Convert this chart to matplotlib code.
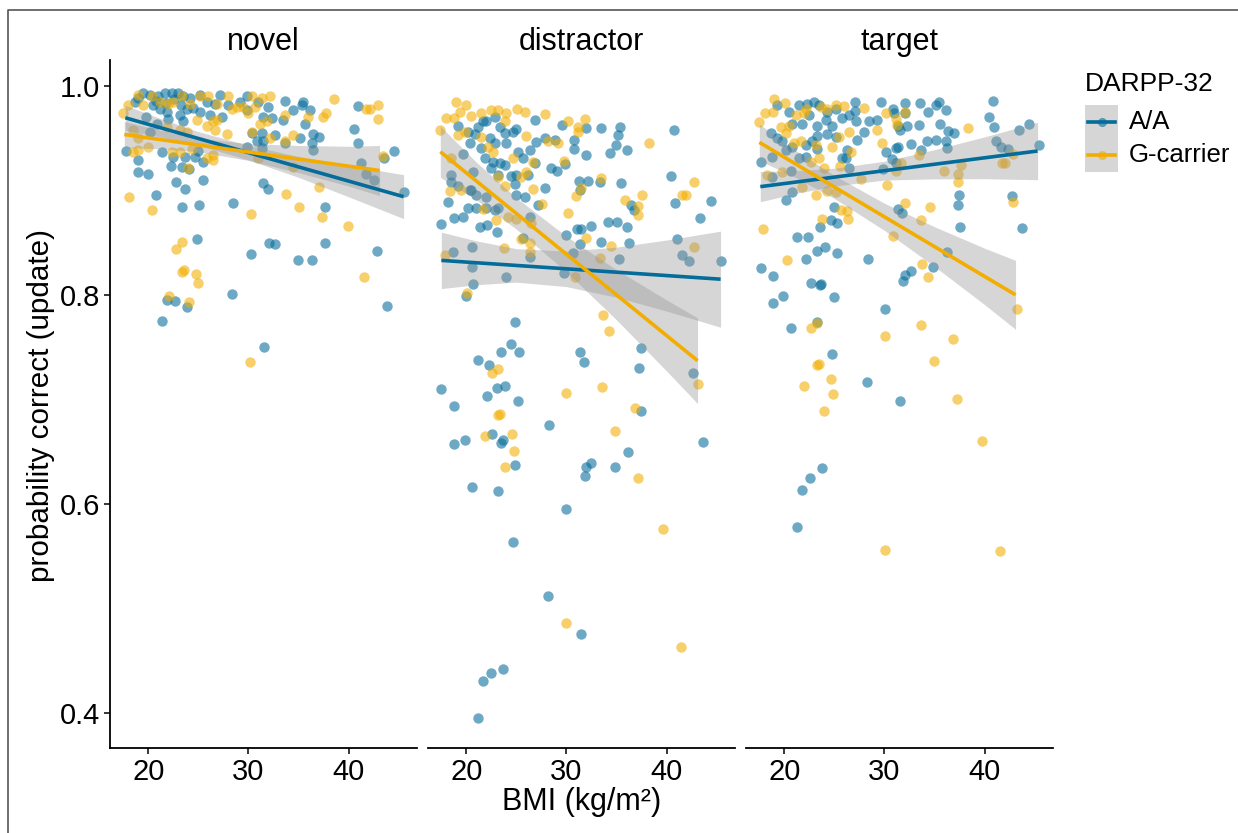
import matplotlib.pyplot as plt
from matplotlib.lines import Line2D
from matplotlib.patches import Rectangle

plt.rcParams['font.family'] = ['Liberation Sans', 'DejaVu Sans']

panels = ['novel', 'distractor', 'target']
groups = ['A/A', 'G-carrier']
colors = {'A/A': '#046C9A', 'G-carrier': '#F2AD00'}

# (BMI, probability correct)
novel_aa = [
    (19.5, 0.993), (18.7, 0.985), (20.2, 0.991), (21.0, 0.990), (21.7, 0.993), (22.4, 0.993),
    (23.0, 0.993), (23.5, 0.990), (24.2, 0.988), (25.2, 0.991), (25.9, 0.985), (26.7, 0.983),
    (27.2, 0.991), (28.0, 0.982), (29.2, 0.985), (29.9, 0.990), (31.0, 0.985), (32.0, 0.980),
    (33.7, 0.986), (34.5, 0.977), (35.4, 0.982), (35.5, 0.985), (36.2, 0.977), (40.9, 0.981),
    (20.5, 0.982), (21.9, 0.975), (23.2, 0.972), (23.9, 0.978), (25.2, 0.975), (26.2, 0.972),
    (27.4, 0.970), (29.9, 0.977), (31.5, 0.970), (32.4, 0.969), (33.5, 0.967), (35.7, 0.964),
    (40.5, 0.959), (20.2, 0.956), (20.9, 0.964), (31.4, 0.955), (30.4, 0.955), (32.7, 0.953),
    (30.9, 0.947), (31.5, 0.947), (33.7, 0.945), (35.2, 0.950), (36.5, 0.954), (37.0, 0.951),
    (36.4, 0.945), (29.9, 0.942), (31.4, 0.941), (36.5, 0.939), (40.9, 0.945), (41.2, 0.926),
    (41.7, 0.916), (42.5, 0.910), (43.5, 0.931), (44.5, 0.938), (45.5, 0.898), (17.8, 0.938),
    (19.0, 0.929), (19.0, 0.918), (20.0, 0.916), (21.4, 0.937), (22.5, 0.932), (23.7, 0.932),
    (24.7, 0.932), (25.0, 0.938), (25.5, 0.927), (22.3, 0.923), (23.4, 0.922), (24.1, 0.920),
    (22.8, 0.908), (23.7, 0.901), (25.5, 0.910), (31.5, 0.907), (32.0, 0.901), (20.8, 0.896),
    (23.4, 0.884), (25.1, 0.886), (28.5, 0.888), (37.6, 0.884), (24.9, 0.853), (30.3, 0.839),
    (32.1, 0.850), (32.7, 0.849), (35.0, 0.833), (36.4, 0.833), (37.6, 0.850), (42.8, 0.842),
    (28.4, 0.801), (21.9, 0.795), (22.7, 0.794), (23.9, 0.788), (43.8, 0.789), (21.4, 0.775),
    (31.6, 0.750), (19.0, 0.988), (20.8, 0.986), (21.8, 0.984), (22.6, 0.987), (23.3, 0.982),
    (24.5, 0.979), (22.0, 0.968), (23.5, 0.966), (19.8, 0.970), (21.2, 0.978),
]
novel_g = [
    (17.5, 0.974), (18.0, 0.982), (19.0, 0.991), (19.5, 0.982), (20.4, 0.990), (21.2, 0.985),
    (22.0, 0.983), (22.5, 0.985), (23.4, 0.990), (24.2, 0.983), (25.2, 0.990), (26.0, 0.990),
    (26.9, 0.983), (28.0, 0.990), (28.4, 0.978), (28.9, 0.980), (29.5, 0.980), (30.4, 0.990),
    (31.4, 0.988), (32.2, 0.990), (30.0, 0.974), (30.7, 0.980), (31.2, 0.964), (31.9, 0.966),
    (33.7, 0.972), (36.0, 0.970), (37.4, 0.970), (37.7, 0.974), (38.5, 0.987), (41.7, 0.978),
    (42.1, 0.978), (42.9, 0.982), (42.9, 0.968), (24.9, 0.967), (25.9, 0.962), (26.5, 0.966),
    (26.7, 0.958), (27.9, 0.954), (26.9, 0.967), (23.9, 0.956), (23.2, 0.958), (21.9, 0.961),
    (18.5, 0.958), (19.0, 0.950), (20.0, 0.942), (18.5, 0.937), (19.0, 0.939), (22.4, 0.937),
    (23.2, 0.937), (24.4, 0.940), (25.9, 0.931), (26.5, 0.929), (26.5, 0.934), (24.0, 0.921),
    (30.4, 0.956), (32.2, 0.950), (34.5, 0.953), (33.7, 0.947), (31.0, 0.931), (34.5, 0.922),
    (43.4, 0.933), (33.8, 0.897), (37.0, 0.903), (18.1, 0.894), (20.4, 0.881), (30.3, 0.877),
    (35.1, 0.884), (37.3, 0.875), (39.9, 0.866), (23.4, 0.851), (22.8, 0.844), (23.4, 0.822),
    (23.6, 0.824), (24.8, 0.820), (25.0, 0.811), (22.1, 0.799), (24.1, 0.793), (41.5, 0.817),
    (30.2, 0.736),
]
distractor_aa = [
    (19.2, 0.962), (20.2, 0.956), (21.7, 0.966), (22.0, 0.966), (22.9, 0.970), (21.2, 0.961),
    (23.4, 0.961), (23.9, 0.955), (24.7, 0.956), (25.0, 0.959), (24.0, 0.945), (22.4, 0.950),
    (22.9, 0.945), (19.7, 0.935), (20.4, 0.945), (20.9, 0.954), (21.5, 0.941), (21.9, 0.931),
    (22.7, 0.927), (23.4, 0.926), (22.5, 0.921), (23.9, 0.924), (25.2, 0.937), (25.7, 0.931),
    (26.4, 0.939), (26.9, 0.926), (27.0, 0.946), (26.9, 0.967), (27.9, 0.950), (28.9, 0.948),
    (28.5, 0.921), (29.1, 0.919), (29.9, 0.925), (29.6, 0.963), (30.8, 0.948), (30.8, 0.940),
    (32.0, 0.960), (32.0, 0.934), (33.5, 0.960), (35.4, 0.961), (35.2, 0.953), (35.0, 0.943),
    (34.4, 0.936), (36.1, 0.939), (40.7, 0.958), (40.4, 0.914), (35.5, 0.907), (33.4, 0.908),
    (32.2, 0.909), (31.3, 0.909), (31.4, 0.900), (27.9, 0.902), (26.2, 0.915), (25.0, 0.915),
    (24.9, 0.906), (24.5, 0.914), (23.2, 0.915), (20.7, 0.918), (20.5, 0.900), (19.2, 0.904),
    (18.5, 0.908), (18.5, 0.915), (18.2, 0.889), (17.5, 0.868), (18.8, 0.874), (19.7, 0.875),
    (20.2, 0.883), (21.0, 0.883), (21.4, 0.865), (22.1, 0.867), (23.1, 0.860), (22.9, 0.881),
    (23.2, 0.883), (22.0, 0.883), (22.0, 0.894), (21.0, 0.896), (20.4, 0.900), (25.0, 0.896),
    (25.9, 0.894), (26.4, 0.875), (27.2, 0.886), (25.7, 0.854), (26.4, 0.836), (30.0, 0.857),
    (31.1, 0.863), (31.5, 0.863), (32.5, 0.866), (31.4, 0.849), (33.5, 0.851), (34.2, 0.870),
    (35.1, 0.870), (36.1, 0.865), (36.3, 0.850), (36.7, 0.881), (36.5, 0.886), (40.8, 0.888),
    (44.4, 0.890), (43.3, 0.874), (41.0, 0.853), (41.5, 0.838), (42.2, 0.832), (45.4, 0.832),
    (35.3, 0.834), (30.7, 0.840), (29.8, 0.821), (24.0, 0.817), (20.6, 0.846), (18.7, 0.841),
    (20.6, 0.827), (20.7, 0.810), (20.0, 0.799), (24.9, 0.774), (24.5, 0.753), (23.5, 0.745),
    (25.3, 0.745), (21.2, 0.738), (22.3, 0.733), (17.5, 0.710), (18.8, 0.694), (22.1, 0.703),
    (23.1, 0.711), (23.9, 0.713), (25.2, 0.698), (28.3, 0.675), (22.6, 0.667), (23.5, 0.658),
    (23.7, 0.661), (19.9, 0.661), (18.8, 0.657), (24.9, 0.637), (20.6, 0.616), (23.2, 0.612),
    (31.4, 0.745), (31.8, 0.736), (37.4, 0.749), (37.2, 0.730), (42.6, 0.725), (37.4, 0.689),
    (43.6, 0.659), (36.2, 0.650), (32.0, 0.635), (32.5, 0.639), (31.9, 0.627), (34.9, 0.635),
    (30.0, 0.595), (24.7, 0.563), (28.2, 0.512), (31.5, 0.475), (23.7, 0.442), (22.5, 0.438),
    (21.7, 0.430), (21.2, 0.395),
]
distractor_g = [
    (19.0, 0.985), (20.0, 0.982), (19.4, 0.975), (18.0, 0.969), (18.8, 0.969), (20.5, 0.971),
    (21.5, 0.974), (22.5, 0.977), (23.2, 0.977), (24.0, 0.974), (23.9, 0.966), (25.1, 0.978),
    (25.9, 0.975), (27.9, 0.973), (30.2, 0.966), (31.9, 0.968), (31.2, 0.961), (31.2, 0.956),
    (38.2, 0.945), (17.4, 0.958), (19.2, 0.953), (19.9, 0.956), (21.5, 0.951), (22.2, 0.942),
    (22.7, 0.937), (26.0, 0.952), (28.2, 0.947), (29.2, 0.945), (18.5, 0.931), (18.4, 0.899),
    (19.5, 0.900), (23.2, 0.913), (23.9, 0.904), (24.7, 0.931), (25.5, 0.913), (26.0, 0.918),
    (26.7, 0.901), (26.7, 0.927), (29.8, 0.928), (27.6, 0.887), (30.2, 0.878), (31.0, 0.895),
    (31.5, 0.902), (33.5, 0.912), (35.9, 0.891), (37.5, 0.896), (37.1, 0.885), (37.1, 0.876),
    (41.5, 0.896), (41.9, 0.896), (42.7, 0.908), (21.7, 0.882), (23.0, 0.872), (24.2, 0.875),
    (25.0, 0.873), (26.5, 0.869), (32.0, 0.854), (34.5, 0.847), (33.4, 0.835), (42.7, 0.846),
    (23.8, 0.845), (26.4, 0.850), (26.4, 0.841), (25.5, 0.853), (17.9, 0.838), (30.9, 0.817),
    (20.1, 0.802), (33.7, 0.781), (34.3, 0.765), (23.2, 0.729), (22.6, 0.725), (30.0, 0.706),
    (33.6, 0.712), (43.1, 0.715), (23.2, 0.685), (23.4, 0.686), (21.9, 0.665), (24.6, 0.667),
    (24.8, 0.651), (23.9, 0.635), (36.8, 0.692), (34.9, 0.670), (37.1, 0.625), (39.6, 0.576),
    (30.0, 0.486), (41.4, 0.463),
]
target_aa = [
    (19.3, 0.982), (20.5, 0.975), (21.5, 0.982), (22.3, 0.983), (23.0, 0.985), (23.5, 0.982),
    (24.3, 0.975), (25.2, 0.978), (20.8, 0.964), (21.8, 0.964), (22.5, 0.972), (23.3, 0.962),
    (24.2, 0.967), (24.8, 0.962), (25.8, 0.969), (26.5, 0.972), (27.1, 0.985), (27.1, 0.976),
    (27.2, 0.966), (28.0, 0.956), (28.5, 0.966), (29.3, 0.967), (29.7, 0.985), (30.9, 0.978),
    (31.0, 0.974), (32.1, 0.984), (32.1, 0.974), (31.4, 0.962), (31.6, 0.958), (32.3, 0.962),
    (33.6, 0.984), (34.4, 0.975), (35.2, 0.982), (35.5, 0.985), (36.2, 0.977), (35.6, 0.964),
    (33.5, 0.963), (36.4, 0.957), (36.9, 0.955), (36.2, 0.947), (36.3, 0.941), (35.2, 0.948),
    (34.3, 0.947), (33.7, 0.939), (32.7, 0.944), (31.4, 0.942), (31.2, 0.941), (30.2, 0.937),
    (30.8, 0.930), (31.2, 0.926), (29.9, 0.920), (27.3, 0.948), (26.3, 0.939), (26.2, 0.931),
    (26.5, 0.921), (25.8, 0.931), (25.2, 0.951), (24.3, 0.954), (23.3, 0.952), (22.8, 0.947),
    (23.3, 0.940), (22.2, 0.943), (21.5, 0.931), (22.2, 0.932), (20.8, 0.942), (20.2, 0.939),
    (19.8, 0.947), (19.3, 0.950), (18.7, 0.955), (18.8, 0.932), (17.7, 0.927), (18.8, 0.913),
    (20.7, 0.919), (20.8, 0.898), (20.2, 0.891), (25.0, 0.884), (25.3, 0.869), (24.7, 0.872),
    (23.6, 0.865), (21.3, 0.855), (22.4, 0.855), (23.3, 0.842), (24.1, 0.846), (25.3, 0.840),
    (22.2, 0.834), (28.4, 0.834), (31.4, 0.882), (31.8, 0.878), (37.4, 0.896), (37.3, 0.886),
    (37.5, 0.865), (40.4, 0.970), (40.9, 0.961), (40.8, 0.986), (41.1, 0.947), (41.6, 0.942),
    (42.3, 0.940), (43.4, 0.958), (44.4, 0.964), (45.4, 0.943), (42.7, 0.895), (43.7, 0.864),
    (36.3, 0.841), (34.9, 0.827), (32.7, 0.823), (32.1, 0.819), (31.9, 0.813), (17.7, 0.826),
    (18.9, 0.818), (22.7, 0.811), (23.6, 0.809), (23.7, 0.810), (19.9, 0.799), (18.9, 0.792),
    (25.0, 0.798), (30.1, 0.786), (20.7, 0.768), (23.3, 0.774), (24.8, 0.743), (28.3, 0.717),
    (31.6, 0.698), (23.8, 0.634), (22.6, 0.625), (21.8, 0.613), (21.3, 0.578),
]
target_g = [
    (17.5, 0.965), (18.1, 0.974), (19.0, 0.987), (20.1, 0.984), (18.9, 0.975), (19.7, 0.961),
    (20.5, 0.962), (21.2, 0.972), (22.0, 0.974), (22.2, 0.978), (23.7, 0.980), (24.3, 0.978),
    (25.2, 0.982), (26.0, 0.981), (28.0, 0.979), (30.2, 0.974), (31.2, 0.968), (32.1, 0.975),
    (29.3, 0.958), (31.3, 0.963), (38.3, 0.960), (20.2, 0.955), (21.0, 0.945), (21.7, 0.947),
    (23.2, 0.943), (24.8, 0.942), (25.5, 0.951), (26.5, 0.956), (26.7, 0.937), (23.5, 0.931),
    (22.7, 0.927), (18.3, 0.915), (19.8, 0.918), (21.8, 0.903), (23.2, 0.896), (24.3, 0.899),
    (25.2, 0.898), (24.0, 0.921), (25.6, 0.923), (27.7, 0.911), (29.8, 0.945), (30.3, 0.905),
    (31.2, 0.919), (31.7, 0.926), (33.5, 0.934), (33.7, 0.872), (32.1, 0.888), (34.6, 0.884),
    (36.0, 0.919), (37.3, 0.916), (37.3, 0.908), (37.6, 0.924), (41.7, 0.926), (42.0, 0.926),
    (42.8, 0.935), (42.8, 0.889), (30.9, 0.856), (26.4, 0.873), (25.7, 0.881), (23.8, 0.873),
    (26.3, 0.880), (17.9, 0.863), (20.3, 0.833), (33.8, 0.830), (34.4, 0.817), (43.2, 0.786),
    (22.7, 0.768), (23.3, 0.773), (30.1, 0.761), (33.7, 0.771), (36.8, 0.758), (23.3, 0.733),
    (23.5, 0.734), (35.0, 0.737), (22.0, 0.713), (24.7, 0.719), (24.9, 0.705), (24.0, 0.689),
    (37.2, 0.700), (39.7, 0.660), (30.1, 0.556), (41.5, 0.555),
]

# fitted lines (ends) and confidence bands
novel_aa_fit = [(17.7, 0.9695), (45.5, 0.894)]
novel_g_fit = [(17.6, 0.9535), (43.1, 0.919)]
distractor_aa_fit = [(17.5, 0.833), (45.4, 0.815)]
distractor_g_fit = [(17.4, 0.937), (43.1, 0.737)]
target_aa_fit = [(17.6, 0.9036), (45.3, 0.9377)]
target_g_fit = [(17.5, 0.946), (43.1, 0.800)]

# (BMI, lower, upper)
novel_aa_band = [(17.7, 0.9575, 0.9815), (21, 0.9515, 0.9695), (25, 0.9432, 0.9562), (30, 0.9291, 0.9431),
                 (35, 0.9125, 0.9325), (40, 0.8939, 0.9239), (45.5, 0.873, 0.915)]
novel_g_band = [(17.6, 0.941, 0.966), (21, 0.9399, 0.9579), (25, 0.937, 0.950), (30, 0.9287, 0.9447),
                (35, 0.917, 0.943), (40, 0.9042, 0.9422), (43.1, 0.895, 0.943)]
distractor_aa_band = [(17.5, 0.806, 0.860), (21, 0.8097, 0.8517), (25, 0.8122, 0.8442), (30, 0.8079, 0.8419),
                      (35, 0.7977, 0.8457), (40, 0.7845, 0.8525), (45.4, 0.769, 0.861)]
distractor_g_band = [(17.4, 0.9125, 0.9615), (21, 0.891, 0.927), (25, 0.8629, 0.8929), (30, 0.822, 0.856),
                     (35, 0.7761, 0.8241), (40, 0.7272, 0.7952), (43.1, 0.696, 0.778)]
target_aa_band = [(17.6, 0.8891, 0.9181), (21, 0.8968, 0.9188), (25, 0.9042, 0.9212), (30, 0.9099, 0.9279),
                  (35, 0.911, 0.939), (40, 0.9112, 0.9512), (45.3, 0.9102, 0.9652)]
target_g_band = [(17.5, 0.9285, 0.9635), (21, 0.913, 0.939), (25, 0.8922, 0.9142), (30, 0.8617, 0.8877),
                 (35, 0.8272, 0.8652), (40, 0.7907, 0.8447), (43.1, 0.767, 0.833)]

points = {
    'novel': {'A/A': novel_aa, 'G-carrier': novel_g},
    'distractor': {'A/A': distractor_aa, 'G-carrier': distractor_g},
    'target': {'A/A': target_aa, 'G-carrier': target_g},
}
fits = {
    'novel': {'A/A': (novel_aa_fit, novel_aa_band), 'G-carrier': (novel_g_fit, novel_g_band)},
    'distractor': {'A/A': (distractor_aa_fit, distractor_aa_band), 'G-carrier': (distractor_g_fit, distractor_g_band)},
    'target': {'A/A': (target_aa_fit, target_aa_band), 'G-carrier': (target_g_fit, target_g_band)},
}

W, H = 1238, 833
fig = plt.figure(figsize=(W / 100, H / 100), dpi=100)

lefts = [110, 428, 746]
for i, name in enumerate(panels):
    ax = fig.add_axes([lefts[i] / W, 1 - 748 / H, 307 / W, 688 / H])
    for g in groups:
        bx, by = zip(*points[name][g])
        ax.scatter(bx, by, s=56, color=colors[g], alpha=0.58, linewidths=0, zorder=1)
    for g in groups:
        line, band = fits[name][g]
        x, lo, hi = zip(*band)
        ax.fill_between(x, lo, hi, color='#999999', alpha=0.4, linewidth=0, zorder=2)
    for g in groups:
        line, band = fits[name][g]
        lx, ly = zip(*line)
        ax.plot(lx, ly, color=colors[g], lw=2.6, zorder=3, solid_capstyle='butt')

    ax.set_xlim(16.17, 46.84)
    ax.set_ylim(0.3663, 1.0248)
    ax.set_xticks([20, 30, 40])
    ax.set_yticks([0.4, 0.6, 0.8, 1.0])
    ax.set_yticklabels(['0.4', '0.6', '0.8', '1.0'])
    for s in ['top', 'right']:
        ax.spines[s].set_visible(False)
    ax.spines['bottom'].set_linewidth(1.3)
    ax.spines['left'].set_linewidth(1.3)
    ax.tick_params(labelsize=21, length=4, width=1.1, colors='black', pad=3)
    if i > 0:
        ax.spines['left'].set_visible(False)
        ax.tick_params(axis='y', left=False, labelleft=False)
    ax.set_title(name, fontsize=22, pad=7)

fig.text(41 / W, 1 - 405 / H, 'probability correct (update)', rotation=90, fontsize=21.3,
         ha='center', va='center')
fig.text(582 / W, 1 - 802 / H, 'BMI (kg/m²)', fontsize=22, ha='center', va='center')

# legend drawn by hand, ggplot-style: grey key column, line with dot, labels
def fx(px):
    return px / W


def fy(py):
    return 1 - py / H


fig.text(fx(1085), fy(84), 'DARPP-32', fontsize=19, ha='left', va='center')
fig.add_artist(Rectangle((fx(1085), fy(172)), fx(1118) - fx(1085), fy(105) - fy(172),
                         transform=fig.transFigure, facecolor='#999999', alpha=0.4,
                         edgecolor='none'))
for g, py in zip(groups, [122, 155]):
    fig.add_artist(Line2D([fx(1088), fx(1115)], [fy(py), fy(py)], color=colors[g], lw=2.6,
                          transform=fig.transFigure))
    fig.add_artist(Line2D([fx(1101.5)], [fy(py)], marker='o', markersize=6.5, color=colors[g],
                          alpha=0.6, markeredgewidth=0, transform=fig.transFigure))
    fig.text(fx(1129), fy(py), g, fontsize=18.5, ha='left', va='center')

# thin border around the image
fig.add_artist(Line2D([8 / W, 8 / W, 1], [0, 1 - 10 / H, 1 - 10 / H], color='#555555', lw=1.2))

fig.savefig('out.png', dpi=100)
